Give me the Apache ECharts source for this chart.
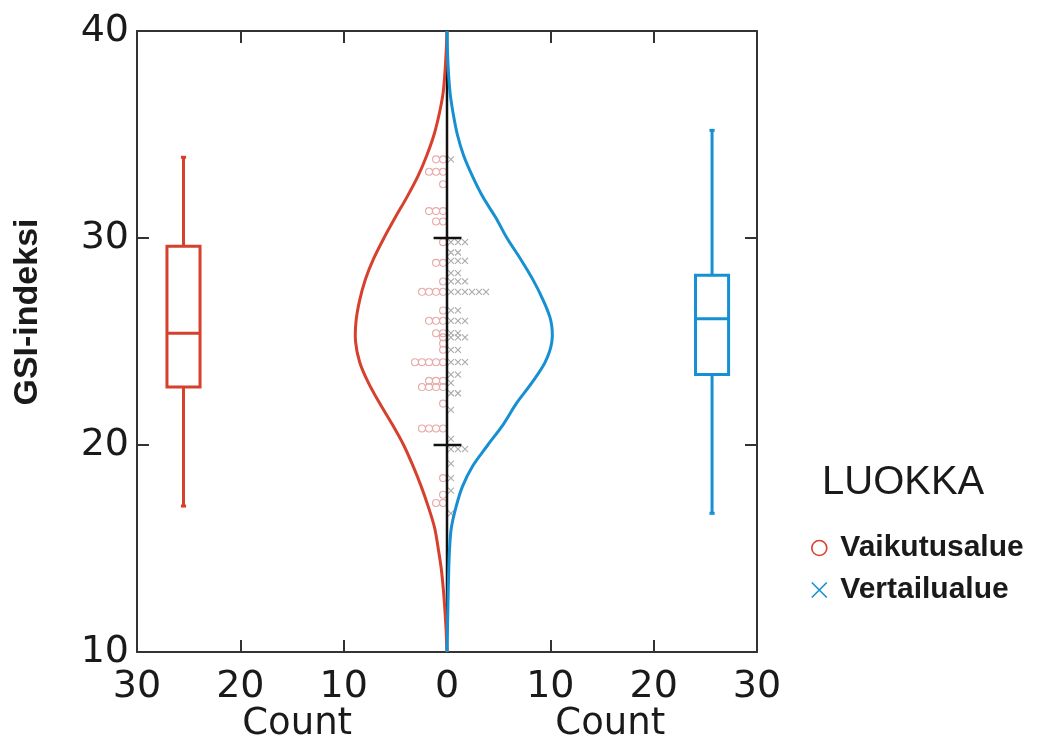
<!DOCTYPE html>
<html><head><meta charset="utf-8">
<script src="https://cdn.jsdelivr.net/npm/echarts@6/dist/echarts.min.js"></script>
<style>html,body{margin:0;padding:0;background:#fff}#c{width:1060px;height:746px}</style>
</head><body><div id="c"></div>
<script>
// ---------------- DATA ----------------
const groupNames = ['Vaikutusalue', 'Vertailualue'];
const legendTitle = 'LUOKKA';
const yAxisTitle = 'GSI-indeksi';
const xAxisTitle = 'Count';
const yTickValues = [10, 20, 30, 40];
const xTickValues = [-30, -20, -10, 0, 10, 20, 30];

// density (count scale) read at each GSI value
const densityGSI = [10,11,12,13,14,15,16,17,18,19,20,21,22,23,24,25,26,27,28,29,30,31,32,33,34,35,36,37,38,39,40];
const densityVaikutusalue = [0,0.08,0.2,0.35,0.55,0.85,1.2,1.8,2.5,3.3,4.2,5.3,6.5,7.6,8.45,8.85,8.8,8.45,7.9,7.1,6.1,5.0,3.85,2.8,1.95,1.25,0.75,0.38,0.2,0.08,0];
const densityVertailualue = [0,0.04,0.08,0.12,0.17,0.25,0.42,0.87,1.5,2.5,3.95,5.45,6.7,8.2,9.5,10.15,10.05,9.3,8.3,7.1,5.8,4.7,3.45,2.45,1.6,1.0,0.6,0.3,0.14,0.05,0];

// box plot stats: [min, Q1, median, Q3, max]
const boxVaikutusalue = [17.05, 22.8, 25.4, 29.6, 33.9];
const boxVertailualue = [16.7, 23.4, 26.1, 28.2, 35.2];

// individual observations (GSI)
const obsVaikutusalue = [33.8,33.8,33.2,33.2,33.2,32.6,31.3,31.3,31.3,30.8,30.8,29.8,28.8,28.8,27.9,
  27.4,27.4,27.4,27.4,26.5,26.0,26.0,26.0,25.4,25.4,25.2,24.9,24.6,24.0,24.0,24.0,24.0,24.0,
  23.1,23.1,23.1,22.8,22.8,22.8,22.8,22.0,20.8,20.8,20.8,20.8,18.4,17.6,17.2,17.2];
const obsVertailualue = [33.8,29.8,29.8,29.8,29.3,29.3,28.9,28.9,28.9,28.3,28.3,27.9,27.9,27.9,
  27.4,27.4,27.4,27.4,27.4,27.4,26.5,26.5,26.0,26.0,26.0,25.4,25.4,25.2,25.2,25.2,24.6,24.6,
  24.0,24.0,24.0,23.4,23.4,23.0,22.5,22.5,21.7,20.3,19.8,19.8,19.8,19.1,18.4,17.8,16.7];

// centre axis cross ticks
const centreTicks = [20, 30];

// ---------------- STYLE / LAYOUT ----------------
const RED = '#d6402c', BLUE = '#1690d2';
const DOT_RED = '#e8aaaa', DOT_GRAY = '#ababab';
const FONT = "'Liberation Sans', Arial, sans-serif";
const TICK_FONT = "'DejaVu Sans', sans-serif";
const BOX_POS = [-25.5, 25.65];
const BOX_HALF = 1.6, CAP_HALF = 0.25;
const DOT_OFFSET = 0.38, DOT_STEP = 0.68;

const chart = echarts.init(document.getElementById('c'), null, {renderer: 'canvas'});

function stackDots(vals, side) {
  const cnt = {};
  return vals.map(v => {
    const k = v.toFixed(1);
    cnt[k] = (cnt[k] || 0) + 1;
    return [side * (DOT_OFFSET + (cnt[k] - 1) * DOT_STEP), v];
  });
}
// density curve through the data points (Catmull-Rom spline in pixel space)
function densityRender(dens, side, color) {
  return function (params, api) {
    const pts = densityGSI.map((g, i) => api.coord([side * dens[i], g]));
    let d = 'M' + pts[0][0] + ',' + pts[0][1];
    for (let i = 0; i < pts.length - 1; i++) {
      const p0 = pts[Math.max(i - 1, 0)], p1 = pts[i], p2 = pts[i + 1], p3 = pts[Math.min(i + 2, pts.length - 1)];
      const c1 = [p1[0] + (p2[0] - p0[0]) / 6, p1[1] + (p2[1] - p0[1]) / 6];
      const c2 = [p2[0] - (p3[0] - p1[0]) / 6, p2[1] - (p3[1] - p1[1]) / 6];
      d += 'C' + c1[0] + ',' + c1[1] + ',' + c2[0] + ',' + c2[1] + ',' + p2[0] + ',' + p2[1];
    }
    return {type: 'path', shape: {pathData: d}, style: {stroke: color, lineWidth: 3, fill: null, lineJoin: 'round'}};
  };
}
function boxRender(stats, cx, color) {
  return function (params, api) {
    const [mn, q1, md, q3, mx] = stats;
    const p = (x, y) => api.coord([x, y]);
    const st = {stroke: color, lineWidth: 3, fill: null};
    const tl = p(cx - BOX_HALF, q3), br = p(cx + BOX_HALF, q1);
    const line = (a, b) => ({type: 'line', shape: {x1: a[0], y1: a[1], x2: b[0], y2: b[1]}, style: st});
    return {type: 'group', children: [
      {type: 'rect', shape: {x: tl[0], y: tl[1], width: br[0] - tl[0], height: br[1] - tl[1]}, style: st},
      line(p(cx - BOX_HALF, md), p(cx + BOX_HALF, md)),
      line(p(cx, q3), p(cx, mx)),
      line(p(cx, q1), p(cx, mn)),
      line(p(cx - CAP_HALF, mx), p(cx + CAP_HALF, mx)),
      line(p(cx - CAP_HALF, mn), p(cx + CAP_HALF, mn))
    ]};
  };
}
function centreAxisRender(params, api) {
  const st = {stroke: '#111', lineWidth: 2.5};
  const a = api.coord([0, yTickValues[0]]), b = api.coord([0, yTickValues[yTickValues.length - 1]]);
  const kids = [{type: 'line', shape: {x1: a[0], y1: a[1], x2: b[0], y2: b[1]}, style: st}];
  centreTicks.forEach(t => {
    const l = api.coord([-1.3, t]), r = api.coord([1.4, t]);
    kids.push({type: 'line', shape: {x1: l[0], y1: l[1], x2: r[0], y2: r[1]}, style: st});
  });
  return {type: 'group', children: kids};
}

const axisLineStyle = {color: '#333', width: 2};
const tickCfg = {show: true, inside: true, length: 12, lineStyle: {color: '#333', width: 2}};
const labelCfg = {fontSize: 38, color: '#1a1a1a', fontFamily: TICK_FONT};

const option = {
  animation: false,
  backgroundColor: '#fff',
  grid: {left: 137, top: 31, width: 620, height: 621, containLabel: false},
  xAxis: [
    {type: 'value', position: 'bottom', min: -30, max: 30, interval: 10,
     axisLine: {show: true, onZero: false, lineStyle: axisLineStyle}, axisTick: tickCfg,
     axisLabel: Object.assign({margin: 16, formatter: v => String(Math.abs(v))}, labelCfg),
     splitLine: {show: false}},
    {type: 'value', position: 'top', min: -30, max: 30, interval: 10,
     axisLine: {show: true, onZero: false, lineStyle: axisLineStyle}, axisTick: tickCfg,
     axisLabel: {show: false}, splitLine: {show: false}}
  ],
  yAxis: [
    {type: 'value', position: 'left', min: 10, max: 40, interval: 10,
     axisLine: {show: true, onZero: false, lineStyle: axisLineStyle}, axisTick: tickCfg,
     axisLabel: Object.assign({margin: 8}, labelCfg), splitLine: {show: false}},
    {type: 'value', position: 'right', min: 10, max: 40, interval: 10,
     axisLine: {show: true, onZero: false, lineStyle: axisLineStyle}, axisTick: tickCfg,
     axisLabel: {show: false}, splitLine: {show: false}}
  ],
  legend: {
    orient: 'vertical', left: 806, top: 528, itemGap: 12, itemWidth: 16, itemHeight: 15,
    textStyle: {fontSize: 30, fontWeight: 'bold', color: '#1a1a1a', fontFamily: FONT, padding: [0, 0, 0, 8]},
    selectedMode: false,
    data: [
      {name: groupNames[0], icon: 'circle', itemStyle: {color: 'rgba(0,0,0,0)', borderColor: RED, borderWidth: 1.6}},
      {name: groupNames[1], icon: 'path://M0,0L10,10M10,0L0,10', itemStyle: {color: 'rgba(0,0,0,0)', borderColor: BLUE, borderWidth: 1.6}}
    ]
  },
  series: [
    {name: groupNames[0], type: 'scatter', z: 1, symbol: 'circle', symbolSize: 7,
     itemStyle: {color: 'rgba(0,0,0,0)', borderColor: DOT_RED, borderWidth: 1.1, opacity: 1},
     data: stackDots(obsVaikutusalue, -1), silent: true},
    {name: groupNames[1], type: 'scatter', z: 1, symbol: 'path://M0,0L10,10M10,0L0,10', symbolSize: 6,
     itemStyle: {color: 'rgba(0,0,0,0)', borderColor: DOT_GRAY, borderWidth: 1.1, opacity: 1},
     data: stackDots(obsVertailualue, 1), silent: true},
    {type: 'custom', z: 2, renderItem: centreAxisRender, data: [[0, 25]], silent: true},
    {type: 'custom', z: 3, renderItem: densityRender(densityVaikutusalue, -1, RED), data: [[0, 25]], silent: true},
    {type: 'custom', z: 4, renderItem: densityRender(densityVertailualue, 1, BLUE), data: [[0, 25]], silent: true},
    {type: 'custom', z: 3, renderItem: boxRender(boxVaikutusalue, BOX_POS[0], RED), data: [[BOX_POS[0], boxVaikutusalue[2]]], silent: true},
    {type: 'custom', z: 3, renderItem: boxRender(boxVertailualue, BOX_POS[1], BLUE), data: [[BOX_POS[1], boxVertailualue[2]]], silent: true}
  ]
};
chart.setOption(option);

// titles placed relative to the axes
const lc = chart.convertToPixel({xAxisIndex: 0, yAxisIndex: 0}, [-14.5, 10]);
const rc = chart.convertToPixel({xAxisIndex: 0, yAxisIndex: 0}, [15.8, 10]);
chart.setOption({graphic: [
  {type: 'text', x: 28, y: 312, rotation: Math.PI / 2,
   style: {text: yAxisTitle, font: "bold 34px " + FONT, fill: '#1a1a1a', align: 'center', verticalAlign: 'middle'}},
  {type: 'text', x: lc[0], y: 724,
   style: {text: xAxisTitle, font: "37px " + TICK_FONT, fill: '#1a1a1a', align: 'center', verticalAlign: 'middle'}},
  {type: 'text', x: rc[0], y: 724,
   style: {text: xAxisTitle, font: "37px " + TICK_FONT, fill: '#1a1a1a', align: 'center', verticalAlign: 'middle'}},
  {type: 'text', x: 822, y: 483,
   style: {text: legendTitle, font: "40px " + FONT, fill: '#1a1a1a', align: 'left', verticalAlign: 'middle'}}
]});
</script></body></html>
